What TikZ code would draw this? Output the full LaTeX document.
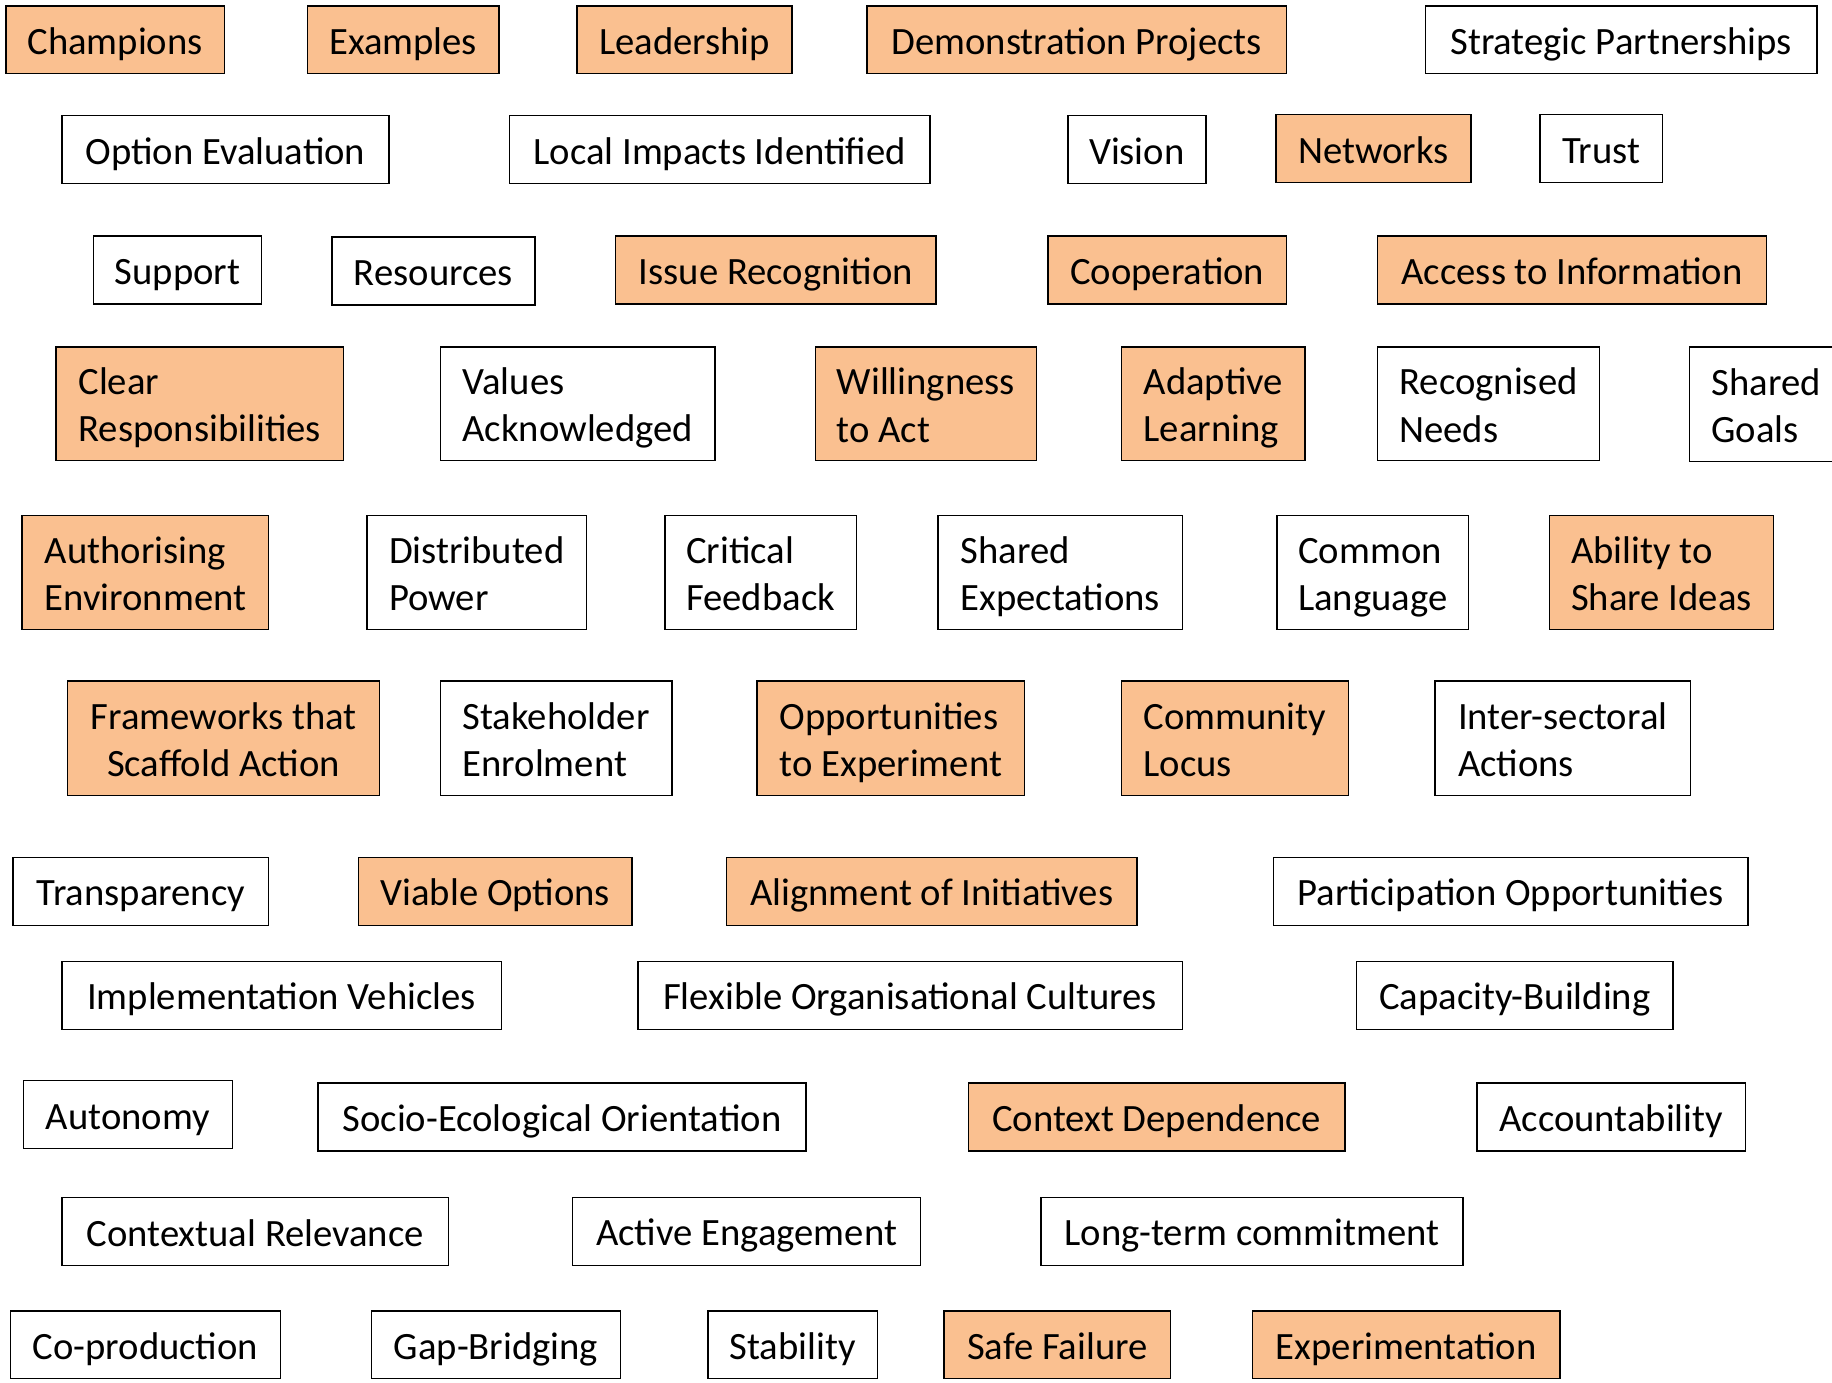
\documentclass[tikz,border=0pt]{standalone}
\usepackage{fontspec}
\setmainfont{Carlito}
\definecolor{boxorange}{HTML}{FAC090}
\newcommand\st{\rule[-0.14em]{0pt}{1.05em}}
\tikzset{
  box/.style={draw=black, line width=1.1pt, fill=white, inner sep=0pt,
    font=\fontsize{29}{35.4}\selectfont, align=left, anchor=center},
  hot/.style={box, fill=boxorange},
  span/.style n args={4}{at={({(#1+#3)/2},{(#2+#4)/2})},
    minimum width={(#3-#1)*0.8763pt}, minimum height={(#4-#2)*0.8763pt}},
}
\begin{document}
\begin{tikzpicture}[x=0.8763pt,y=-0.8763pt]
\clip (0,0) rectangle (1568,1183);
\fill[white] (0,0) rectangle (1568,1183);
% Row 1
\node[hot, span={5}{5}{192}{63}] (champions) {\st Champions};
\node[hot, span={263}{5}{427}{63}] (examples) {\st Examples};
\node[hot, span={494}{5}{678}{63}] (leadership) {\st Leadership};
\node[hot, span={742}{5}{1101}{63}] (demo) {\st Demonstration Projects};
\node[box, span={1220}{5}{1555}{63}] (strategic) {\st Strategic Partnerships};
% Row 2
\node[box, span={53}{99}{333}{157}] (option) {\st Option Evaluation};
\node[box, span={436}{99}{796}{157}] (local) {\st Local Impacts Identified};
\node[box, span={914}{99}{1032}{157}] (vision) {\st Vision};
\node[hot, span={1092}{98}{1259}{156}] (networks) {\st Networks};
\node[box, span={1318}{98}{1423}{156}] (trust) {\st Trust};
% Row 3
\node[box, span={80}{202}{224}{260}] (support) {\st Support};
\node[box, span={284}{203}{458}{261}] (resources) {\st Resources};
\node[hot, span={527}{202}{801}{260}] (issue) {\st Issue Recognition};
\node[hot, span={897}{202}{1101}{260}] (coop) {\st Cooperation};
\node[hot, span={1179}{202}{1512}{260}] (access) {\st Access to Information};
% Row 4
\node[hot, span={48}{297}{294}{394}] (clear) {\st Clear\\\st Responsibilities};
\node[box, span={377}{297}{612}{394}] (values) {\st Values\\\st Acknowledged};
\node[hot, span={698}{297}{887}{394}] (willing) {\st Willingness\\\st to Act};
\node[hot, span={960}{297}{1117}{394}] (adaptive) {\st Adaptive\\\st Learning};
\node[box, span={1179}{297}{1369}{394}] (recog) {\st Recognised\\\st Needs};
\node[box, span={1446}{297}{1577}{395}] (sharedgoals) {\st Shared\\\st Goals};
% Row 5
\node[hot, span={19}{441}{230}{539}] (auth) {\st Authorising\\\st Environment};
\node[box, span={314}{441}{502}{539}] (distrib) {\st Distributed\\\st Power};
\node[box, span={569}{441}{733}{539}] (critical) {\st Critical\\\st Feedback};
\node[box, span={803}{441}{1012}{539}] (sharedexp) {\st Shared\\\st Expectations};
\node[box, span={1093}{441}{1257}{539}] (common) {\st Common\\\st Language};
\node[hot, span={1326}{441}{1518}{539}] (ability) {\st Ability to\\\st Share Ideas};
% Row 6
\node[hot, align=center, span={58}{583}{325}{681}] (frameworks) {\st Frameworks that\\\st Scaffold Action};
\node[box, span={377}{583}{575}{681}] (stake) {\st Stakeholder\\\st Enrolment};
\node[hot, span={648}{583}{877}{681}] (opp) {\st Opportunities\\\st to Experiment};
\node[hot, span={960}{583}{1154}{681}] (community) {\st Community\\\st Locus};
\node[box, span={1228}{583}{1447}{681}] (inter) {\st Inter-sectoral\\\st Actions};
% Row 7
\node[box, span={11}{734}{230}{792}] (transp) {\st Transparency};
\node[hot, span={307}{734}{541}{792}] (viable) {\st Viable Options};
\node[hot, span={622}{734}{973}{792}] (alignment) {\st Alignment of Initiatives};
\node[box, span={1090}{734}{1496}{792}] (particip) {\st Participation Opportunities};
% Row 8
\node[box, span={53}{823}{429}{881}] (impl) {\st Implementation Vehicles};
\node[box, span={546}{823}{1012}{881}] (flex) {\st Flexible Organisational Cultures};
\node[box, span={1161}{823}{1432}{881}] (capacity) {\st Capacity-Building};
% Row 9
\node[box, span={20}{925}{199}{983}] (autonomy) {\st Autonomy};
\node[box, span={272}{927}{690}{985}] (socio) {\st Socio-Ecological Orientation};
\node[hot, span={829}{927}{1151}{985}] (context) {\st Context Dependence};
\node[box, span={1264}{927}{1494}{985}] (account) {\st Accountability};
% Row 10
\node[box, span={53}{1025}{384}{1083}] (contextual) {\st Contextual Relevance};
\node[box, span={490}{1025}{788}{1083}] (active) {\st Active Engagement};
\node[box, span={891}{1025}{1252}{1083}] (longterm) {\st Long-term commitment};
% Row 11
\node[box, span={9}{1122}{240}{1180}] (coprod) {\st Co-production};
\node[box, span={318}{1122}{531}{1180}] (gap) {\st Gap-Bridging};
\node[box, span={606}{1122}{751}{1180}] (stability) {\st Stability};
\node[hot, span={808}{1122}{1002}{1180}] (safe) {\st Safe Failure};
\node[hot, span={1072}{1122}{1335}{1180}] (experim) {\st Experimentation};
\end{tikzpicture}
\end{document}
